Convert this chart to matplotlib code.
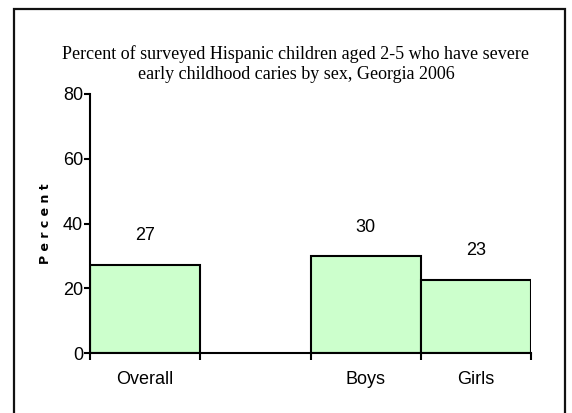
import matplotlib.pyplot as plt
import matplotlib.patches as patches
import numpy as np

# data (blank category keeps the gap between Overall and Boys)
categories = ["Overall", "", "Boys", "Girls"]
values = [27.2, np.nan, 29.9, 22.6]
title = ("Percent of surveyed Hispanic children aged 2-5 who have severe\n"
         "early childhood caries by sex, Georgia 2006")
y_ticks = [0, 20, 40, 60, 80]

W, H = 572, 413
fig = plt.figure(figsize=(W / 100, H / 100), dpi=100)

# outer frame
fig.patches.append(patches.Rectangle((14 / W, -0.05), 551 / W, 1.05 - 9 / H,
                                     transform=fig.transFigure, fill=False,
                                     edgecolor='#111111', linewidth=1.6))

ax = fig.add_axes([90 / W, 60 / H, 441 / W, 259 / H])
x = np.arange(len(categories))
for xi, v in zip(x, values):
    if np.isnan(v):
        continue
    ax.bar(xi + 0.5, v, width=1.0, color='#ccffcc', edgecolor='black', linewidth=1.5)
    ax.text(xi + 0.5, v + 9, f"{v:.0f}", ha='center', va='center',
            fontsize=13, family='Liberation Sans')

ax.set_xlim(0, len(categories))
ax.set_ylim(0, 80)
ax.set_yticks(y_ticks)
ax.set_yticklabels([str(t) for t in y_ticks], fontsize=13, family='Liberation Sans')
ax.set_xticks(np.arange(len(categories) + 1))
ax.set_xticklabels([])
ax.set_xticks(x + 0.5, minor=True)
ax.set_xticklabels(categories, minor=True, fontsize=13, family='Liberation Sans')
ax.tick_params(axis='x', which='minor', length=0, pad=13)
ax.tick_params(axis='x', which='major', length=5, width=1.5, direction='out')
ax.tick_params(axis='y', length=4, width=1.5, pad=1)

for s in ['top', 'right']:
    ax.spines[s].set_visible(False)
for s in ['left', 'bottom']:
    ax.spines[s].set_linewidth(1.5)

ax.set_ylabel("P e r c e n t", fontsize=9, fontweight='bold', labelpad=8)

fig.text(296 / W, 1 - 64 / H, title, ha='center', va='center',
         fontsize=13, family='Liberation Serif', linespacing=1.2)

fig.savefig("out.png", dpi=100)
